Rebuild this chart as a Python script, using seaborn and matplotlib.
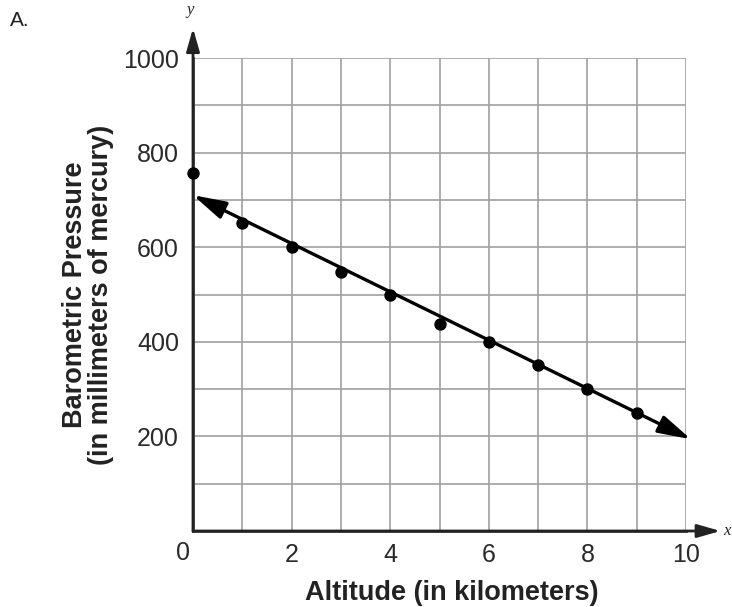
import matplotlib
matplotlib.use("Agg")
import matplotlib.pyplot as plt
import seaborn as sns
import pandas as pd

# Measured pressure at each altitude
altitude_km = [0, 1, 2, 3, 4, 5, 6, 7, 8, 9]
pressure_mm = [757, 652, 600, 547, 500, 437, 400, 350, 300, 250]

# Line of best fit endpoints
fit_x = [0, 10.1]
fit_y = [710, 194]

x_ticks = [2, 4, 6, 8, 10]
y_ticks = [200, 400, 600, 800, 1000]

sns.set_theme(style="white")
plt.rcParams["font.family"] = ["Liberation Sans", "DejaVu Sans"]

fig = plt.figure(figsize=(7.32, 6.07), dpi=100)
ax = fig.add_axes([193 / 732, 1 - 531 / 607, 493 / 732, 473 / 607])

df = pd.DataFrame({"alt": altitude_km, "p": pressure_mm})

ax.set_xlim(0, 10)
ax.set_ylim(0, 1000)
ax.set_xticks(range(0, 11))
ax.set_yticks(range(0, 1001, 100))
ax.grid(True, color="#a0a0a0", linewidth=1.2)
ax.set_axisbelow(True)
ax.tick_params(length=0, labelsize=18, colors="#2a2a2a")
ax.set_xticklabels([str(t) if t in x_ticks else "" for t in range(0, 11)])
ax.set_yticklabels([str(t) if t in y_ticks else "" for t in range(0, 1001, 100)])
ax.tick_params(axis="x", pad=9)
ax.tick_params(axis="y", pad=10)

for side in ["top", "right"]:
    ax.spines[side].set_visible(False)
for side in ["left", "bottom"]:
    ax.spines[side].set_color("#444444")
    ax.spines[side].set_linewidth(2)

# Axis arrows extending beyond the grid
axis_arrow = dict(arrowstyle="-|>,head_length=1.4,head_width=0.4",
                  color="#222222", lw=2, shrinkA=0, shrinkB=0,
                  mutation_scale=10)
ax.annotate("", xy=(10.7, 0), xytext=(0, 0), annotation_clip=False,
            arrowprops=axis_arrow)
ax.annotate("", xy=(0, 1063), xytext=(0, 0), annotation_clip=False,
            arrowprops=axis_arrow)
ax.text(10.76, 0, "x", fontsize=12, style="italic", family="Liberation Serif",
        ha="left", va="center", clip_on=False)
ax.text(-0.05, 1085, "y", fontsize=12, style="italic", family="Liberation Serif",
        ha="center", va="bottom", clip_on=False)
ax.text(-0.06, -22, "0", fontsize=18, color="#2a2a2a", ha="right", va="top")

# Data points
sns.scatterplot(data=df, x="alt", y="p", ax=ax, color="black", s=80,
                edgecolor="black", linewidth=0, zorder=5, clip_on=False)

# Trend line with arrowheads on both ends
ax.annotate("", xy=(fit_x[1], fit_y[1]), xytext=(fit_x[0], fit_y[0]),
            annotation_clip=False,
            arrowprops=dict(arrowstyle="<|-|>,head_length=2.0,head_width=0.55",
                            color="black", lw=2.4, shrinkA=0, shrinkB=0,
                            mutation_scale=10),
            zorder=6)

ax.set_xlabel("Altitude (in kilometers)", fontsize=19.5, fontweight="bold",
              color="#222222")
ax.set_ylabel("Barometric Pressure\n(in millimeters of mercury)", fontsize=19.5,
              fontweight="bold", color="#222222", linespacing=1.0)
ax.xaxis.set_label_coords(0.524, -0.103)
ax.yaxis.set_label_coords(-0.16, 0.5)

fig.text(10 / 732, 1 - 20 / 607, "A.", fontsize=15, color="#222222",
         ha="left", va="center")

fig.savefig("out.png", dpi=100)
